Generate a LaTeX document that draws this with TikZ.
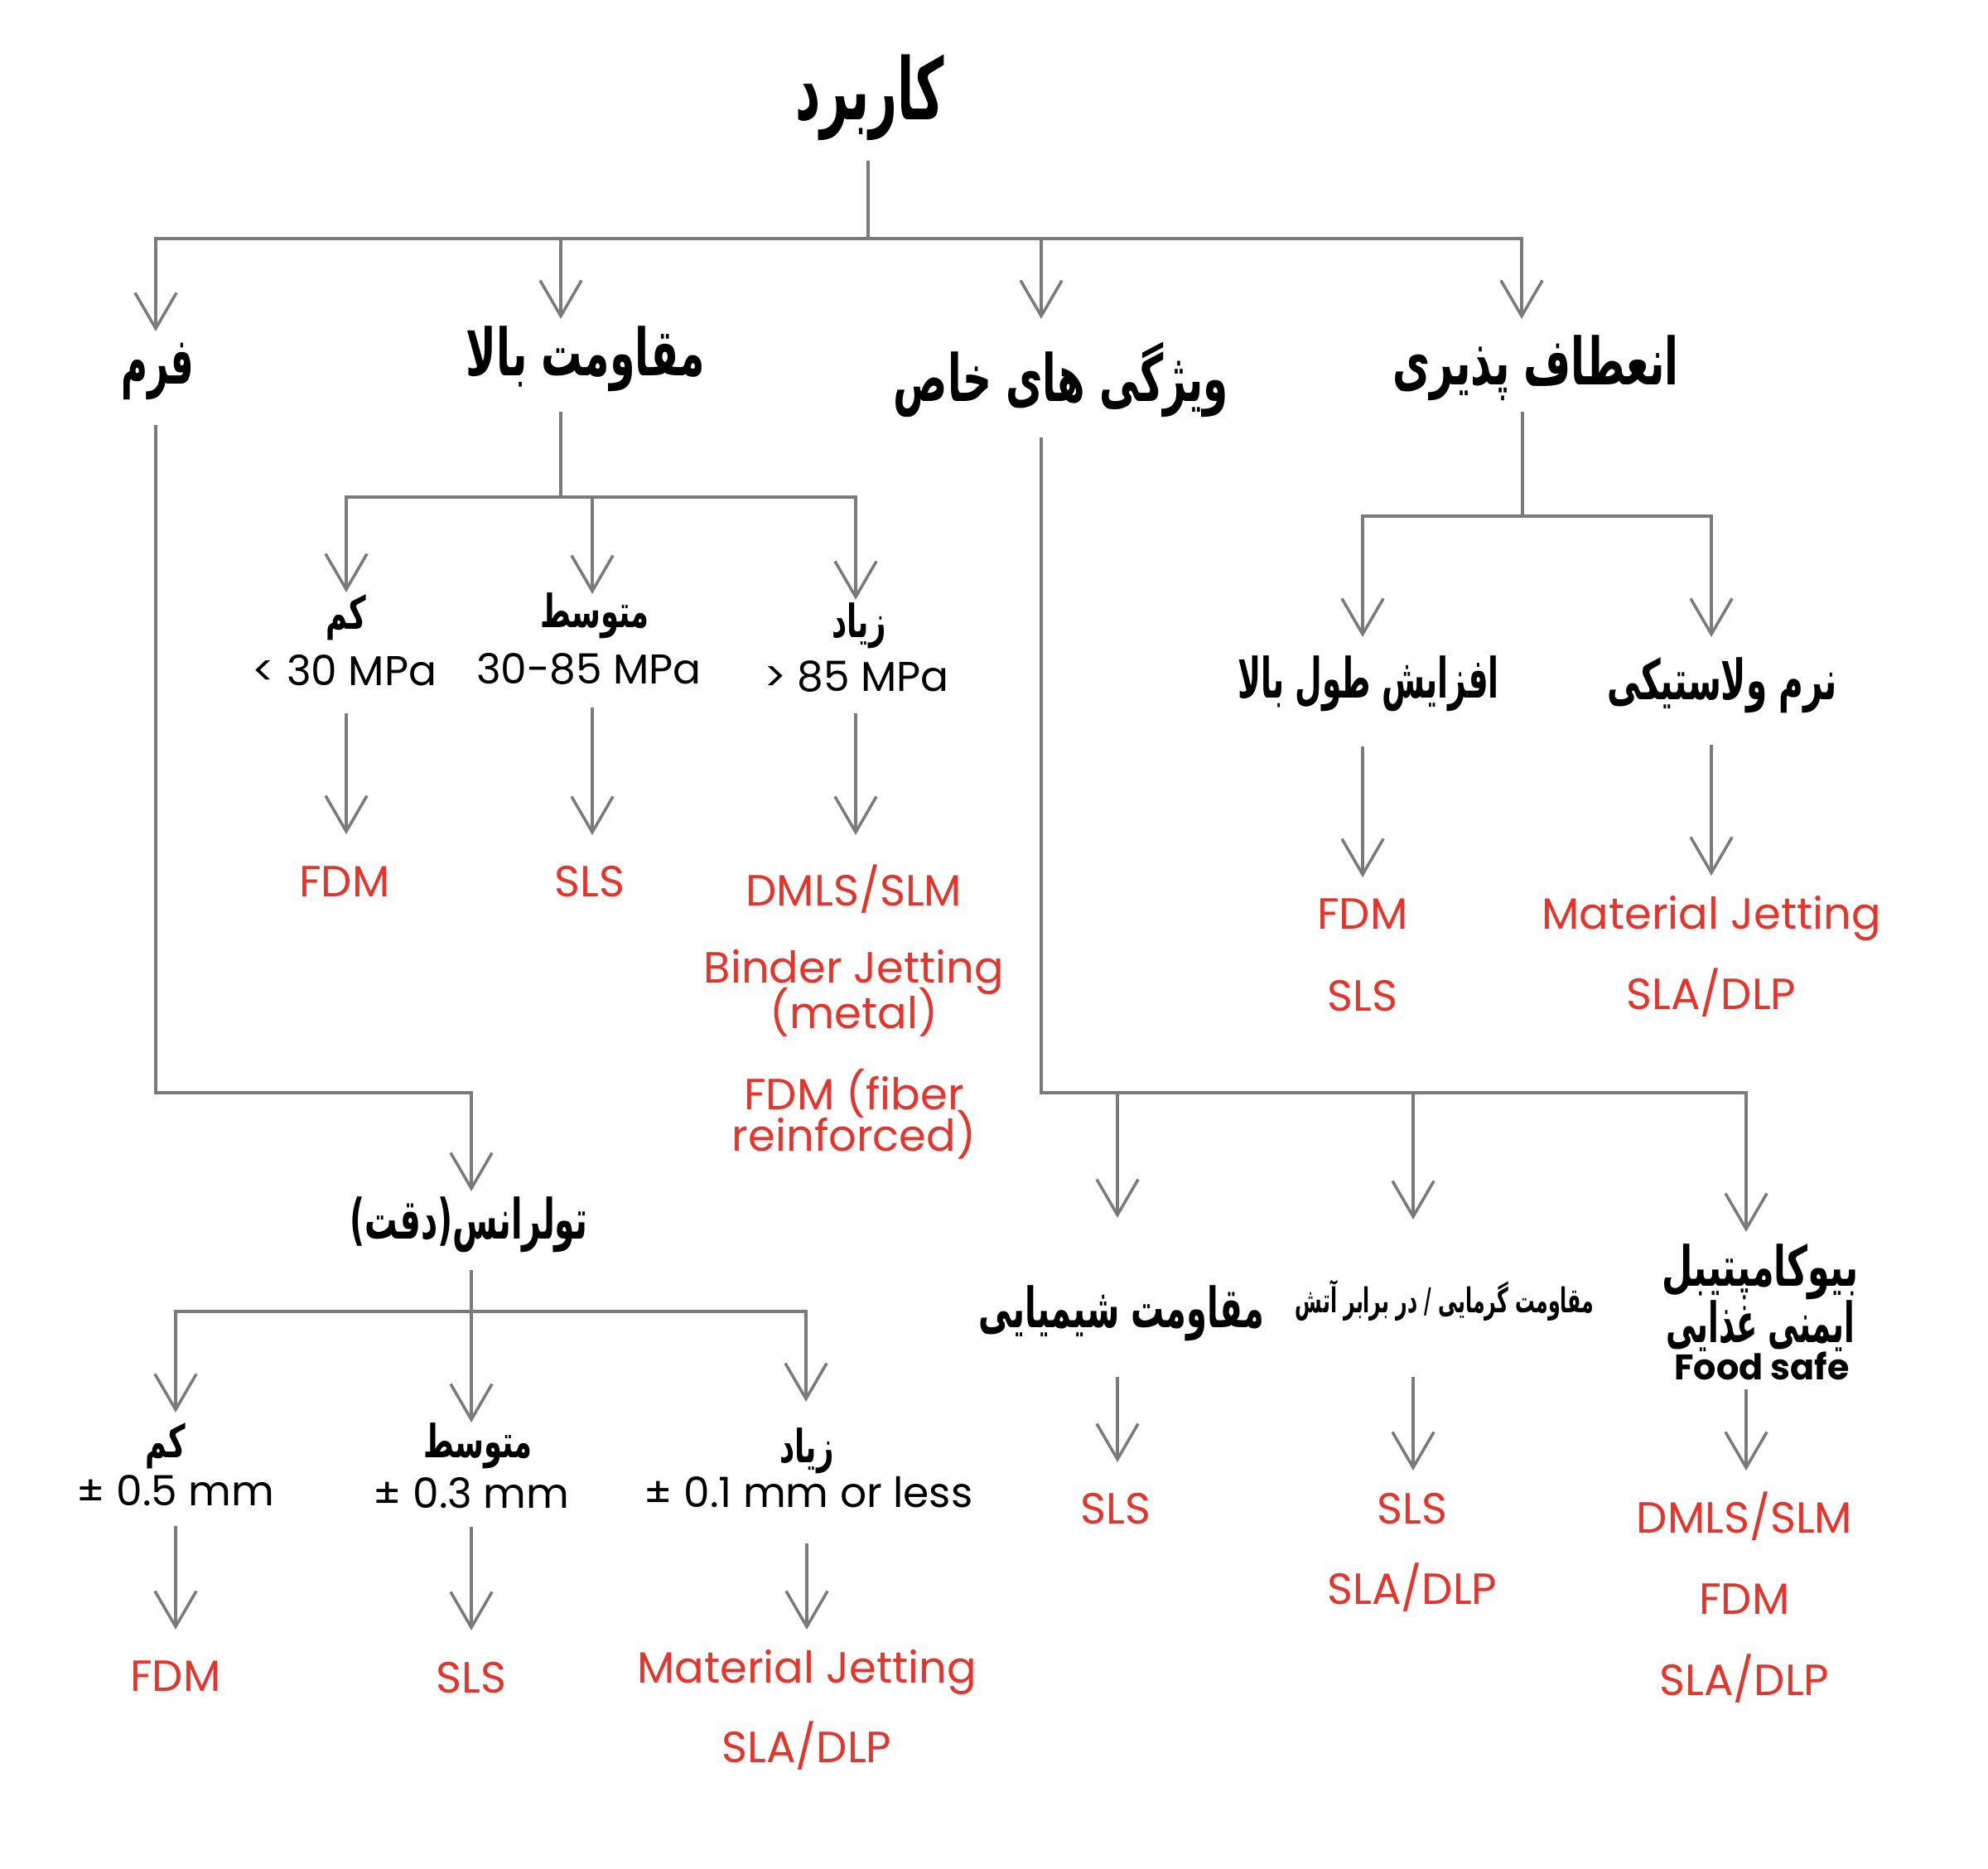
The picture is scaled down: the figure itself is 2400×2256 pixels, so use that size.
\documentclass[tikz,border=0pt]{standalone}
\usepackage{fontspec}
\usepackage{graphicx}
\setmainfont{Poppins}
\newfontfamily\fa[Script=Arabic]{DejaVu Sans}
\newfontfamily\fapar{DejaVu Sans}
\TeXXeTstate=1
\usetikzlibrary{arrows.meta,calc}
\definecolor{redt}{RGB}{232,51,43}
\definecolor{lgray}{RGB}{122,122,122}
\newcommand{\prs}[3]{\scalebox{#1}[#2]{\fa\bfseries #3}}
\begin{document}
\begin{tikzpicture}[x=0.1mm,y=-0.1mm,
 ln/.style={draw=lgray,line width=1pt},
 arr/.style={ln,-{Straight Barb[length=4.3mm,width=5mm]}},
 redtxt/.style={text=redt,inner sep=0pt,font=\fontsize{15}{14.2}\selectfont,text height=10.5pt,text depth=0pt},
 redml/.style={text=redt,inner sep=0pt,font=\fontsize{15}{14.2}\selectfont,align=center},
 lat/.style={text=black,inner sep=0pt,font=\fontsize{14.3}{17}\selectfont,text height=10pt,text depth=0pt},
 fa0/.style={inner sep=0pt,font=\fontsize{28}{30}\selectfont},
 fa1/.style={inner sep=0pt,font=\fontsize{20}{24}\selectfont},
 fa2/.style={inner sep=0pt,font=\fontsize{17}{20}\selectfont},
 fa3/.style={inner sep=0pt,font=\fontsize{14}{16}\selectfont},
 fa4/.style={inner sep=0pt,font=\fontsize{10.5}{12}\selectfont},
]
\fill[white] (0,0) rectangle (2400,2256);
\useasboundingbox (0,0) rectangle (2400,2256);

% root and level 1
\node[fa0] (R) at (1050,118) {\prs{0.6}{1.05}{\beginR کاربرد\endR}};
\node[fa1] (f) at (190,448) {\prs{0.62}{1.12}{\beginR فرم\endR}};
\node[fa1] (mb) at (707,433) {\prs{0.70}{1.12}{\beginR مقاومت بالا\endR}};
\node[fa1] (vk) at (1281,458) {\prs{0.69}{1.12}{\beginR ویژگی های خاص\endR}};
\node[fa1] (ep) at (1854,444) {\prs{0.70}{1.12}{\beginR انعطاف پذیری\endR}};
\draw[arr] ($(R)+(-2,76)$) -- ($(R)+(-2,170)$) -| ($(f)+(-2,-48)$);
\draw[arr] ($(R)+(-2,76)$) -- ($(R)+(-2,170)$) -| ($(mb)+(-30,-48)$);
\draw[arr] ($(R)+(-2,76)$) -- ($(R)+(-2,170)$) -| ($(vk)+(-24,-73)$);
\draw[arr] ($(R)+(-2,76)$) -- ($(R)+(-2,170)$) -| ($(ep)+(-17,-59)$);

% high strength
\node[fa3] (k1) at (418,745) {\prs{0.72}{1.12}{\beginR کم\endR}};
\node[fa3] (k2) at (718,743) {\prs{0.72}{1.12}{\beginR متوسط\endR}};
\node[fa3] (k3) at (1037,755) {\prs{0.72}{1.12}{\beginR زیاد\endR}};
\node[lat] (m1) at (416,810) {< 30 MPa};
\node[lat] (m2) at (711,808) {30-85 MPa};
\node[lat] (m3) at (1034,817) {> 85 MPa};
\draw[arr] ($(mb)+(-30,64)$) -- ($(mb)+(-30,167)$) -| ($(k1)+(0,-30)$);
\draw[arr] ($(mb)+(-30,64)$) -- ($(mb)+(-30,167)$) -| ($(k2)+(-3,-26)$);
\draw[arr] ($(mb)+(-30,64)$) -- ($(mb)+(-30,167)$) -| ($(k3)+(-4,-31)$);
\node[redtxt] (r1) at (416,1064) {FDM};
\node[redtxt] (r2) at (712,1064) {SLS};
\node[redtxt] (r3) at (1031,1075) {DMLS/SLM};
\node[redml] (r3b) at (1031,1199) {Binder Jetting\\[-3.5pt](metal)};
\node[redml] (r3c) at (1031,1345) {FDM (fiber\\[-3.5pt]reinforced)};
\draw[arr] ($(m1)+(2,51)$) -- ($(r1)+(2,-57)$);
\draw[arr] ($(m2)+(4,46)$) -- ($(r2)+(3,-56)$);
\draw[arr] ($(m3)+(-1,44)$) -- ($(r3)+(2,-67)$);

% flexibility
\node[fa2] (a1) at (1652,825) {\prs{0.63}{1.12}{\beginR افزایش طول بالا\endR}};
\node[fa2] (a2) at (2079,827) {\prs{0.68}{1.12}{\beginR نرم ولاستیکی\endR}};
\draw[arr] ($(ep)+(-16,53)$) -- ($(ep)+(-16,179)$) -| ($(a1)+(-7,-56)$);
\draw[arr] ($(ep)+(-16,53)$) -- ($(ep)+(-16,179)$) -| ($(a2)+(-13,-58)$);
\node[redtxt] (ra1) at (1645,1103) {FDM};
\node[redtxt] (ra2) at (1645,1202) {SLS};
\node[redtxt] (rb1) at (2066,1103) {Material Jetting};
\node[redtxt] (rb2) at (2066,1200) {SLA/DLP};
\draw[arr] ($(a1)+(-7,76)$) -- ($(ra1)+(0,-44)$);
\draw[arr] ($(a2)+(-13,72)$) -- ($(rb1)+(0,-46)$);

% special properties
\node[fa2] (s1) at (1354,1585) {\prs{0.67}{1.12}{\beginR مقاومت شیمیایی\endR}};
\node[fa4] (s2) at (1744,1570) {\prs{0.64}{1.12}{\beginR مقاومت گرمایی / در برابر آتش\endR}};
\node[fa2] (s3) at (2125,1535) {\prs{0.72}{1.12}{\beginR بیوکامپتیبل\endR}};
\node[fa2] (s3b) at (2125,1601) {\prs{0.62}{1.12}{\beginR ایمنی غذایی\endR}};
\node[lat,font=\fontsize{12.2}{14}\selectfont\bfseries,text height=8.6pt] (s3c) at (2127,1650) {Food safe};
\draw[arr] ($(vk)+(-24,70)$) -- ($(vk)+(-24,861)$) -| ($(s1)+(-5,-115)$);
\draw[arr] ($(vk)+(-24,70)$) -- ($(vk)+(-24,861)$) -| ($(s2)+(-38,-98)$);
\draw[arr] ($(vk)+(-24,70)$) -- ($(vk)+(-24,861)$) -| ($(s3)+(-17,-48)$);
\node[redtxt] (rs1) at (1347,1821) {SLS};
\node[redtxt] (rs2) at (1705,1821) {SLS};
\node[redtxt] (rs3) at (1705,1918) {SLA/DLP};
\node[redtxt] (rs4) at (2106,1832) {DMLS/SLM};
\node[redtxt] (rs5) at (2106,1930) {FDM};
\node[redtxt] (rs6) at (2106,2028) {SLA/DLP};
\draw[arr] ($(s1)+(-5,77)$) -- ($(rs1)+(2,-56)$);
\draw[arr] ($(s2)+(-38,92)$) -- ($(rs2)+(1,-46)$);
\draw[arr] ($(s3c)+(-19,27)$) -- ($(rs4)+(2,-57)$);

% form / tolerance
\node[fa2] (t) at (566,1478) {\scalebox{0.66}[1.12]{\fapar\bfseries(\fa\beginR دقت\endR\fapar)\fa\beginR تولرانس\endR}};
\draw[arr] ($(f)+(-2,65)$) -- ($(f)+(-2,871)$) -| ($(t)+(3,-40)$);
\node[fa3] (tk1) at (200,1745) {\prs{0.72}{1.12}{\beginR کم\endR}};
\node[fa3] (tk2) at (577,1745) {\prs{0.72}{1.12}{\beginR متوسط\endR}};
\node[fa3] (tk3) at (974,1751) {\prs{0.72}{1.12}{\beginR زیاد\endR}};
\draw[arr] ($(t)+(3,55)$) -- ($(t)+(3,105)$) -| ($(tk1)+(12,-40)$);
\draw[arr] ($(t)+(3,55)$) -- ($(tk2)+(-8,-28)$);
\draw[arr] ($(t)+(3,55)$) -- ($(t)+(3,105)$) -| ($(tk3)+(-1,-59)$);
\node[lat] (tm1) at (212,1800) {± 0.5 mm};
\node[lat] (tm2) at (569,1803) {± 0.3 mm};
\node[lat] (tm3) at (976,1802) {± 0.1 mm or less};
\node[redtxt] (tr1) at (212,2023) {FDM};
\node[redtxt] (tr2) at (569,2025) {SLS};
\node[redtxt] (tr3) at (974,2013) {Material Jetting};
\node[redtxt] (tr4) at (974,2109) {SLA/DLP};
\draw[arr] ($(tm1)+(0,42)$) -- ($(tr1)+(0,-56)$);
\draw[arr] ($(tm2)+(0,40)$) -- ($(tr2)+(0,-57)$);
\draw[arr] ($(tm3)+(-2,61)$) -- ($(tr3)+(0,-46)$);
\end{tikzpicture}
\end{document}
